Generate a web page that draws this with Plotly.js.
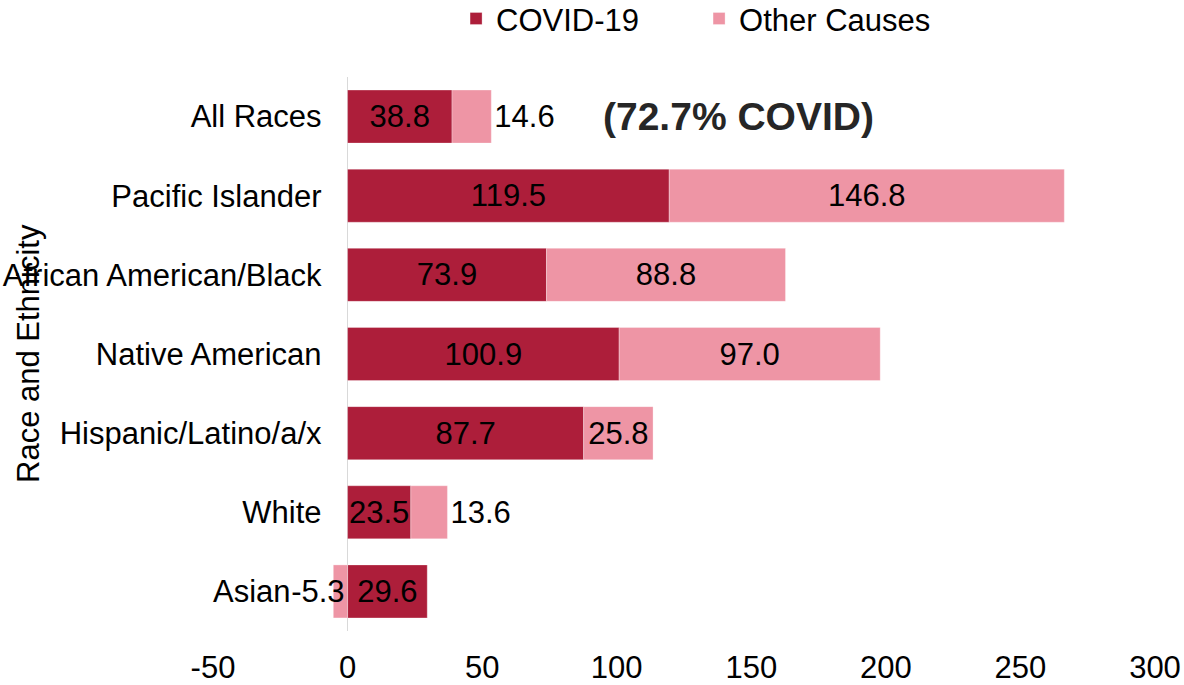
<!DOCTYPE html>
<html>
<head>
<meta charset="utf-8">
<script src="https://cdn.plot.ly/plotly-3.0.1.min.js"></script>
<style>html,body{margin:0;padding:0;background:#fff;}#chart{width:1184px;height:685px;}</style>
</head>
<body>
<div id="chart"></div>
<script>
var categories = ["All Races", "Pacific Islander", "African American/Black", "Native American", "Hispanic/Latino/a/x", "White", "Asian"];
var covid = [38.8, 119.5, 73.9, 100.9, 87.7, 23.5, 29.6];
var other = [14.6, 146.8, 88.8, 97.0, 25.8, 13.6, -5.3];
var otherTextPos = ["outside", "inside", "inside", "inside", "inside", "outside", "outside"];
var xTicks = [-50, 0, 50, 100, 150, 200, 250, 300];
var noteText = "(72.7% COVID)";
var axisTitle = "Race and Ethnicity";

var font = "Liberation Sans, Arial, sans-serif";
var fs = 31;
var covidColor = "#AD1E3A";
var otherColor = "#EE95A5";

// category labels; the Asian label sits further left (its bar reaches below zero)
var catLabels = categories.map(function (c, i) {
  return other[i] < 0 ? c + "\u00a0\u00a0\u00a0\u200a\u200a" : c;
});

// positive and negative parts of "Other Causes"
var otherPos = other.map(function (v) { return v >= 0 ? v : null; });
var otherNeg = other.map(function (v) { return v < 0 ? v : null; });
function fmt(arr) { return arr.map(function (v) { return v === null ? "" : v.toFixed(1); }); }

var txt = {family: font, size: fs, color: "#000"};
var barLine = {color: "rgba(255,255,255,0.6)", width: 0.5};

var traces = [
  {
    type: "bar", orientation: "h", name: "COVID-19",
    y: categories, x: covid, text: fmt(covid),
    textposition: "inside", insidetextanchor: "middle", textangle: 0,
    constraintext: "none", textfont: txt, insidetextfont: txt,
    marker: {color: covidColor, line: barLine},
    hoverinfo: "x+name", cliponaxis: false
  },
  {
    type: "bar", orientation: "h", name: "Other Causes", legendgroup: "other",
    y: categories, x: otherPos, text: fmt(otherPos),
    textposition: otherTextPos, insidetextanchor: "middle", textangle: 0,
    constraintext: "none", textfont: txt, insidetextfont: txt, outsidetextfont: txt,
    marker: {color: otherColor, line: barLine},
    hoverinfo: "x+name", cliponaxis: false
  },
  {
    type: "bar", orientation: "h", name: "Other Causes", legendgroup: "other", showlegend: false,
    y: categories, x: otherNeg, text: fmt(otherNeg),
    textposition: "inside", insidetextanchor: "start", textangle: 0,
    constraintext: "none", textfont: txt, insidetextfont: txt,
    marker: {color: otherColor, line: barLine},
    hoverinfo: "x+name", cliponaxis: false
  }
];

var layout = {
  width: 1184, height: 685,
  margin: {l: 213, r: 29, t: 77, b: 54, autoexpand: false},
  paper_bgcolor: "#fff", plot_bgcolor: "#fff",
  barmode: "relative",
  bargap: 0.33,
  font: {family: font, size: fs, color: "#000"},
  showlegend: true,
  legend: {
    orientation: "h", x: 0.516, xanchor: "center", y: 1.105, yanchor: "middle",
    font: {family: font, size: fs, color: "#000"},
    traceorder: "normal", entrywidth: 198, entrywidthmode: "pixels"
  },
  xaxis: {
    range: [-50, 300], tickvals: xTicks, ticktext: xTicks.map(String),
    showgrid: false, zeroline: true, zerolinecolor: "#d9d9d9", zerolinewidth: 1,
    showline: false, ticks: "", ticklabelstandoff: 15,
    tickfont: {family: font, size: fs, color: "#000"}
  },
  yaxis: {
    type: "category", categoryorder: "array", categoryarray: categories,
    tickvals: categories, ticktext: catLabels,
    autorange: "reversed",
    anchor: "free", position: 50 / 350,
    showgrid: false, zeroline: false, showline: false, ticks: "",
    ticklabelstandoff: 26,
    tickfont: {family: font, size: fs, color: "#000"}
  },
  annotations: [
    {
      text: "<b>" + noteText + "</b>", x: 145.4, y: categories[0], xref: "x", yref: "y",
      showarrow: false, xanchor: "center", yanchor: "middle",
      font: {family: font, size: 39, color: "#262626"}
    },
    {
      text: axisTitle, xref: "paper", yref: "paper", x: (28 - 213) / 942, y: 0.5,
      textangle: -90, showarrow: false, xanchor: "center", yanchor: "middle",
      font: {family: font, size: fs, color: "#000"}
    }
  ]
};

Plotly.newPlot("chart", traces, layout, {displayModeBar: false, staticPlot: true});
</script>
</body>
</html>
